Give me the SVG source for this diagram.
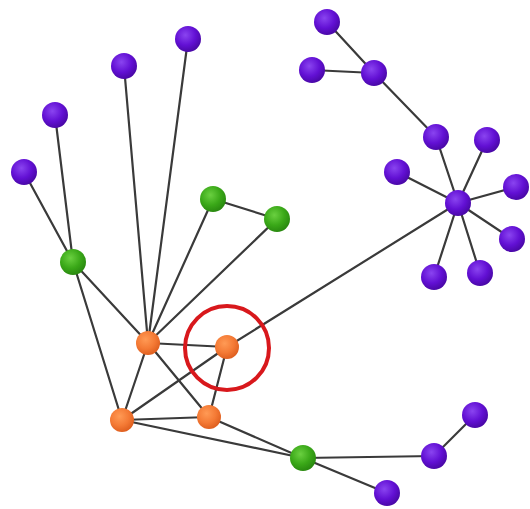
<svg xmlns="http://www.w3.org/2000/svg" width="530" height="509" viewBox="0 0 530 509">
<defs>
<radialGradient id="gp" cx="0.4" cy="0.35" r="0.65">
<stop offset="0" stop-color="#8a44f0"/><stop offset="0.6" stop-color="#6210d4"/><stop offset="1" stop-color="#4a08a8"/>
</radialGradient>
<radialGradient id="gg" cx="0.4" cy="0.35" r="0.65">
<stop offset="0" stop-color="#6ad040"/><stop offset="0.6" stop-color="#3aa818"/><stop offset="1" stop-color="#2a8a10"/>
</radialGradient>
<radialGradient id="go" cx="0.4" cy="0.35" r="0.65">
<stop offset="0" stop-color="#ff9a55"/><stop offset="0.6" stop-color="#f47a35"/><stop offset="1" stop-color="#e06020"/>
</radialGradient>
<style>
.e{stroke:#3a3a3a;stroke-width:2.2;fill:none;stroke-linecap:round}
.p{fill:url(#gp)}
.g{fill:url(#gg)}
.o{fill:url(#go)}
</style>
</defs>
<rect width="530" height="509" fill="#ffffff"/>
<g id="connectors">
<line class="e" x1="327" y1="22" x2="374" y2="73"/>
<line class="e" x1="312" y1="70" x2="374" y2="73"/>
<line class="e" x1="374" y1="73" x2="436" y2="137"/>
<line class="e" x1="436" y1="137" x2="458" y2="203"/>
<line class="e" x1="487" y1="140" x2="458" y2="203"/>
<line class="e" x1="397" y1="172" x2="458" y2="203"/>
<line class="e" x1="516" y1="187" x2="458" y2="203"/>
<line class="e" x1="512" y1="239" x2="458" y2="203"/>
<line class="e" x1="480" y1="273" x2="458" y2="203"/>
<line class="e" x1="434" y1="277" x2="458" y2="203"/>
<line class="e" x1="458" y1="203" x2="227" y2="347"/>
<line class="e" x1="24" y1="172" x2="73" y2="262"/>
<line class="e" x1="55" y1="115" x2="73" y2="262"/>
<line class="e" x1="124" y1="66" x2="148" y2="343"/>
<line class="e" x1="188" y1="39" x2="148" y2="343"/>
<line class="e" x1="213" y1="199" x2="277" y2="219"/>
<line class="e" x1="213" y1="199" x2="148" y2="343"/>
<line class="e" x1="277" y1="219" x2="148" y2="343"/>
<line class="e" x1="73" y1="262" x2="148" y2="343"/>
<line class="e" x1="73" y1="262" x2="122" y2="420"/>
<line class="e" x1="148" y1="343" x2="227" y2="347"/>
<line class="e" x1="148" y1="343" x2="122" y2="420"/>
<line class="e" x1="148" y1="343" x2="209" y2="417"/>
<line class="e" x1="227" y1="347" x2="122" y2="420"/>
<line class="e" x1="227" y1="347" x2="209" y2="417"/>
<line class="e" x1="122" y1="420" x2="209" y2="417"/>
<line class="e" x1="122" y1="420" x2="303" y2="458"/>
<line class="e" x1="209" y1="417" x2="303" y2="458"/>
<line class="e" x1="303" y1="458" x2="434" y2="456"/>
<line class="e" x1="303" y1="458" x2="387" y2="493"/>
<line class="e" x1="434" y1="456" x2="475" y2="415"/>
</g>
<g id="p1"><circle class="p" cx="327" cy="22" r="13"/></g>
<g id="p2"><circle class="p" cx="312" cy="70" r="13"/></g>
<g id="p3"><circle class="p" cx="374" cy="73" r="13"/></g>
<g id="p4"><circle class="p" cx="436" cy="137" r="13"/></g>
<g id="p5"><circle class="p" cx="487" cy="140" r="13"/></g>
<g id="p6"><circle class="p" cx="397" cy="172" r="13"/></g>
<g id="p7"><circle class="p" cx="516" cy="187" r="13"/></g>
<g id="p8"><circle class="p" cx="458" cy="203" r="13"/></g>
<g id="p9"><circle class="p" cx="512" cy="239" r="13"/></g>
<g id="p10"><circle class="p" cx="480" cy="273" r="13"/></g>
<g id="p11"><circle class="p" cx="434" cy="277" r="13"/></g>
<g id="p12"><circle class="p" cx="188" cy="39" r="13"/></g>
<g id="p13"><circle class="p" cx="124" cy="66" r="13"/></g>
<g id="p14"><circle class="p" cx="55" cy="115" r="13"/></g>
<g id="p15"><circle class="p" cx="24" cy="172" r="13"/></g>
<g id="p16"><circle class="p" cx="475" cy="415" r="13"/></g>
<g id="p17"><circle class="p" cx="434" cy="456" r="13"/></g>
<g id="p18"><circle class="p" cx="387" cy="493" r="13"/></g>
<g id="g1"><circle class="g" cx="213" cy="199" r="13"/></g>
<g id="g2"><circle class="g" cx="277" cy="219" r="13"/></g>
<g id="g3"><circle class="g" cx="73" cy="262" r="13"/></g>
<g id="g4"><circle class="g" cx="303" cy="458" r="13"/></g>
<g id="o1"><circle class="o" cx="148" cy="343" r="12"/></g>
<g id="o2"><circle class="o" cx="227" cy="347" r="12"/><circle cx="227" cy="348" r="42" fill="none" stroke="#d8181c" stroke-width="4"/></g>
<g id="o3"><circle class="o" cx="122" cy="420" r="12"/></g>
<g id="o4"><circle class="o" cx="209" cy="417" r="12"/></g>
</svg>
